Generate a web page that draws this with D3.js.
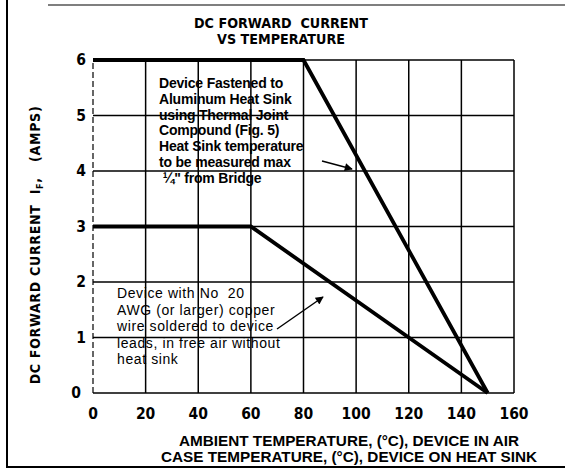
<!DOCTYPE html>
<html><head><meta charset="utf-8">
<script src="https://cdn.jsdelivr.net/npm/d3@7"></script>
<style>body{margin:0;background:#fff}</style>
</head><body>
<script>
const xTicks = [0,20,40,60,80,100,120,140,160];
const yTicks = [0,1,2,3,4,5,6];
const heatSink = [{t:0,i:6},{t:80,i:6},{t:150,i:0}];
const freeAir = [{t:0,i:3},{t:60,i:3},{t:150,i:0}];
const titleLines = ["DC FORWARD  CURRENT","VS TEMPERATURE"];
const xLabelLines = ["AMBIENT TEMPERATURE, (°C), DEVICE IN AIR","CASE TEMPERATURE, (°C), DEVICE ON HEAT SINK"];
const note1 = ["Device Fastened to","Aluminum Heat Sink","using Thermal Joint","Compound (Fig. 5)","Heat Sink temperature","to be measured max"," ¼\" from Bridge"];
const note2 = ["Device with No  20","AWG (or larger) copper","wire soldered to device","leads, in free air without","heat sink"];

const W=565,H=470;
const svg=d3.select("body").append("svg").attr("width",W).attr("height",H);
const x=d3.scaleLinear().domain([0,160]).range([93,514]);
const y=d3.scaleLinear().domain([0,6]).range([393,60]);
const cond="'DejaVu Sans Condensed','Liberation Sans Narrow',sans-serif";
const sans="'Liberation Sans',Arial,sans-serif";

// frame
svg.append("line").attr("x1",7).attr("x2",7).attr("y1",0).attr("y2",467).attr("stroke","#000").attr("stroke-width",2);
svg.append("line").attr("x1",6).attr("x2",565).attr("y1",467).attr("y2",467).attr("stroke","#000").attr("stroke-width",2);
svg.append("line").attr("x1",48).attr("x2",565).attr("y1",5).attr("y2",5).attr("stroke","#000").attr("stroke-width",1.2);

// grid
const grid=svg.append("g").attr("class","grid");
grid.selectAll("line.vx").data(xTicks.filter(d=>d>0)).enter().append("line").attr("class","vx")
 .attr("x1",d=>x(d)).attr("x2",d=>x(d)).attr("y1",y(0)).attr("y2",y(6))
 .attr("stroke","#000").attr("stroke-width",1.5);
grid.selectAll("line.hy").data(yTicks).enter().append("line").attr("class","hy")
 .attr("x1",x(0)).attr("x2",x(160)).attr("y1",d=>y(d)).attr("y2",d=>y(d))
 .attr("stroke","#000").attr("stroke-width",1.5);
grid.append("line").attr("x1",x(0)).attr("x2",x(0)).attr("y1",y(0)).attr("y2",y(6))
 .attr("stroke","#000").attr("stroke-width",1.2).attr("stroke-dasharray","6,3");

// curves
const lineGen=d3.line().x(d=>x(d.t)).y(d=>y(d.i));
[heatSink,freeAir].forEach(s=>svg.append("path").attr("d",lineGen(s)).attr("fill","none")
 .attr("stroke","#000").attr("stroke-width",3.8).attr("stroke-linejoin","miter"));

// ticks
svg.selectAll("text.xt").data(xTicks).enter().append("text").attr("class","xt").attr("x",d=>x(d)).attr("y",419)
 .attr("text-anchor","middle").attr("font-family",cond).attr("font-weight","bold").attr("font-size",15.5).text(d=>d);
svg.selectAll("text.yt").data(yTicks).enter().append("text").attr("class","yt").attr("x",d=>d===0?81:86).attr("y",d=>y(d)+5)
 .attr("text-anchor","end").attr("font-family",cond).attr("font-weight","bold").attr("font-size",15.5).text(d=>d);

// title
svg.selectAll("text.tt").data(titleLines).enter().append("text").attr("class","tt").attr("x",281).attr("y",(d,i)=>27.5+i*16.5)
 .attr("text-anchor","middle").attr("font-family",cond).attr("font-weight","bold").attr("font-size",14.2)
 .attr("xml:space","preserve").text(d=>d);

// y label
const yl=svg.append("text").attr("transform","translate(40,245) rotate(-90)").attr("text-anchor","middle")
 .attr("font-family",cond).attr("font-weight","bold").attr("font-size",14).attr("letter-spacing",0.7).attr("xml:space","preserve");
yl.append("tspan").text("DC FORWARD CURRENT  I");
yl.append("tspan").attr("font-size",9).attr("dy",3).text("F");
yl.append("tspan").attr("dy",-3).text(",   (AMPS)");

// x label
svg.selectAll("text.xl").data(xLabelLines).enter().append("text").attr("class","xl").attr("x",349).attr("y",(d,i)=>446+i*16)
 .attr("text-anchor","middle").attr("font-family",sans).attr("font-weight","bold").attr("font-size",15.3).text(d=>d);

// notes
svg.selectAll("text.n1").data(note1).enter().append("text").attr("class","n1").attr("x",159).attr("y",(d,i)=>88+i*15.8)
 .attr("font-family",sans).attr("font-weight","bold").attr("font-size",14).attr("letter-spacing",-0.2)
 .attr("xml:space","preserve").text(d=>d);
svg.selectAll("text.n2").data(note2).enter().append("text").attr("class","n2").attr("x",117).attr("y",(d,i)=>298+i*16.5)
 .attr("font-family",sans).attr("font-size",14).attr("letter-spacing",0.6)
 .attr("xml:space","preserve").text(d=>d);

// arrows
const defs=svg.append("defs");
defs.append("marker").attr("id","ah").attr("viewBox","0 0 10 10").attr("refX",9).attr("refY",5)
 .attr("markerWidth",11).attr("markerHeight",8).attr("markerUnits","userSpaceOnUse").attr("orient","auto")
 .append("path").attr("d","M0,0 L10,5 L0,10 z").attr("fill","#000");
svg.append("line").attr("x1",322).attr("y1",161).attr("x2",352).attr("y2",169).attr("stroke","#000").attr("stroke-width",1.5).attr("marker-end","url(#ah)");
svg.append("line").attr("x1",277).attr("y1",329).attr("x2",323).attr("y2",297).attr("stroke","#000").attr("stroke-width",1.5).attr("marker-end","url(#ah)");
</script>
</body></html>
